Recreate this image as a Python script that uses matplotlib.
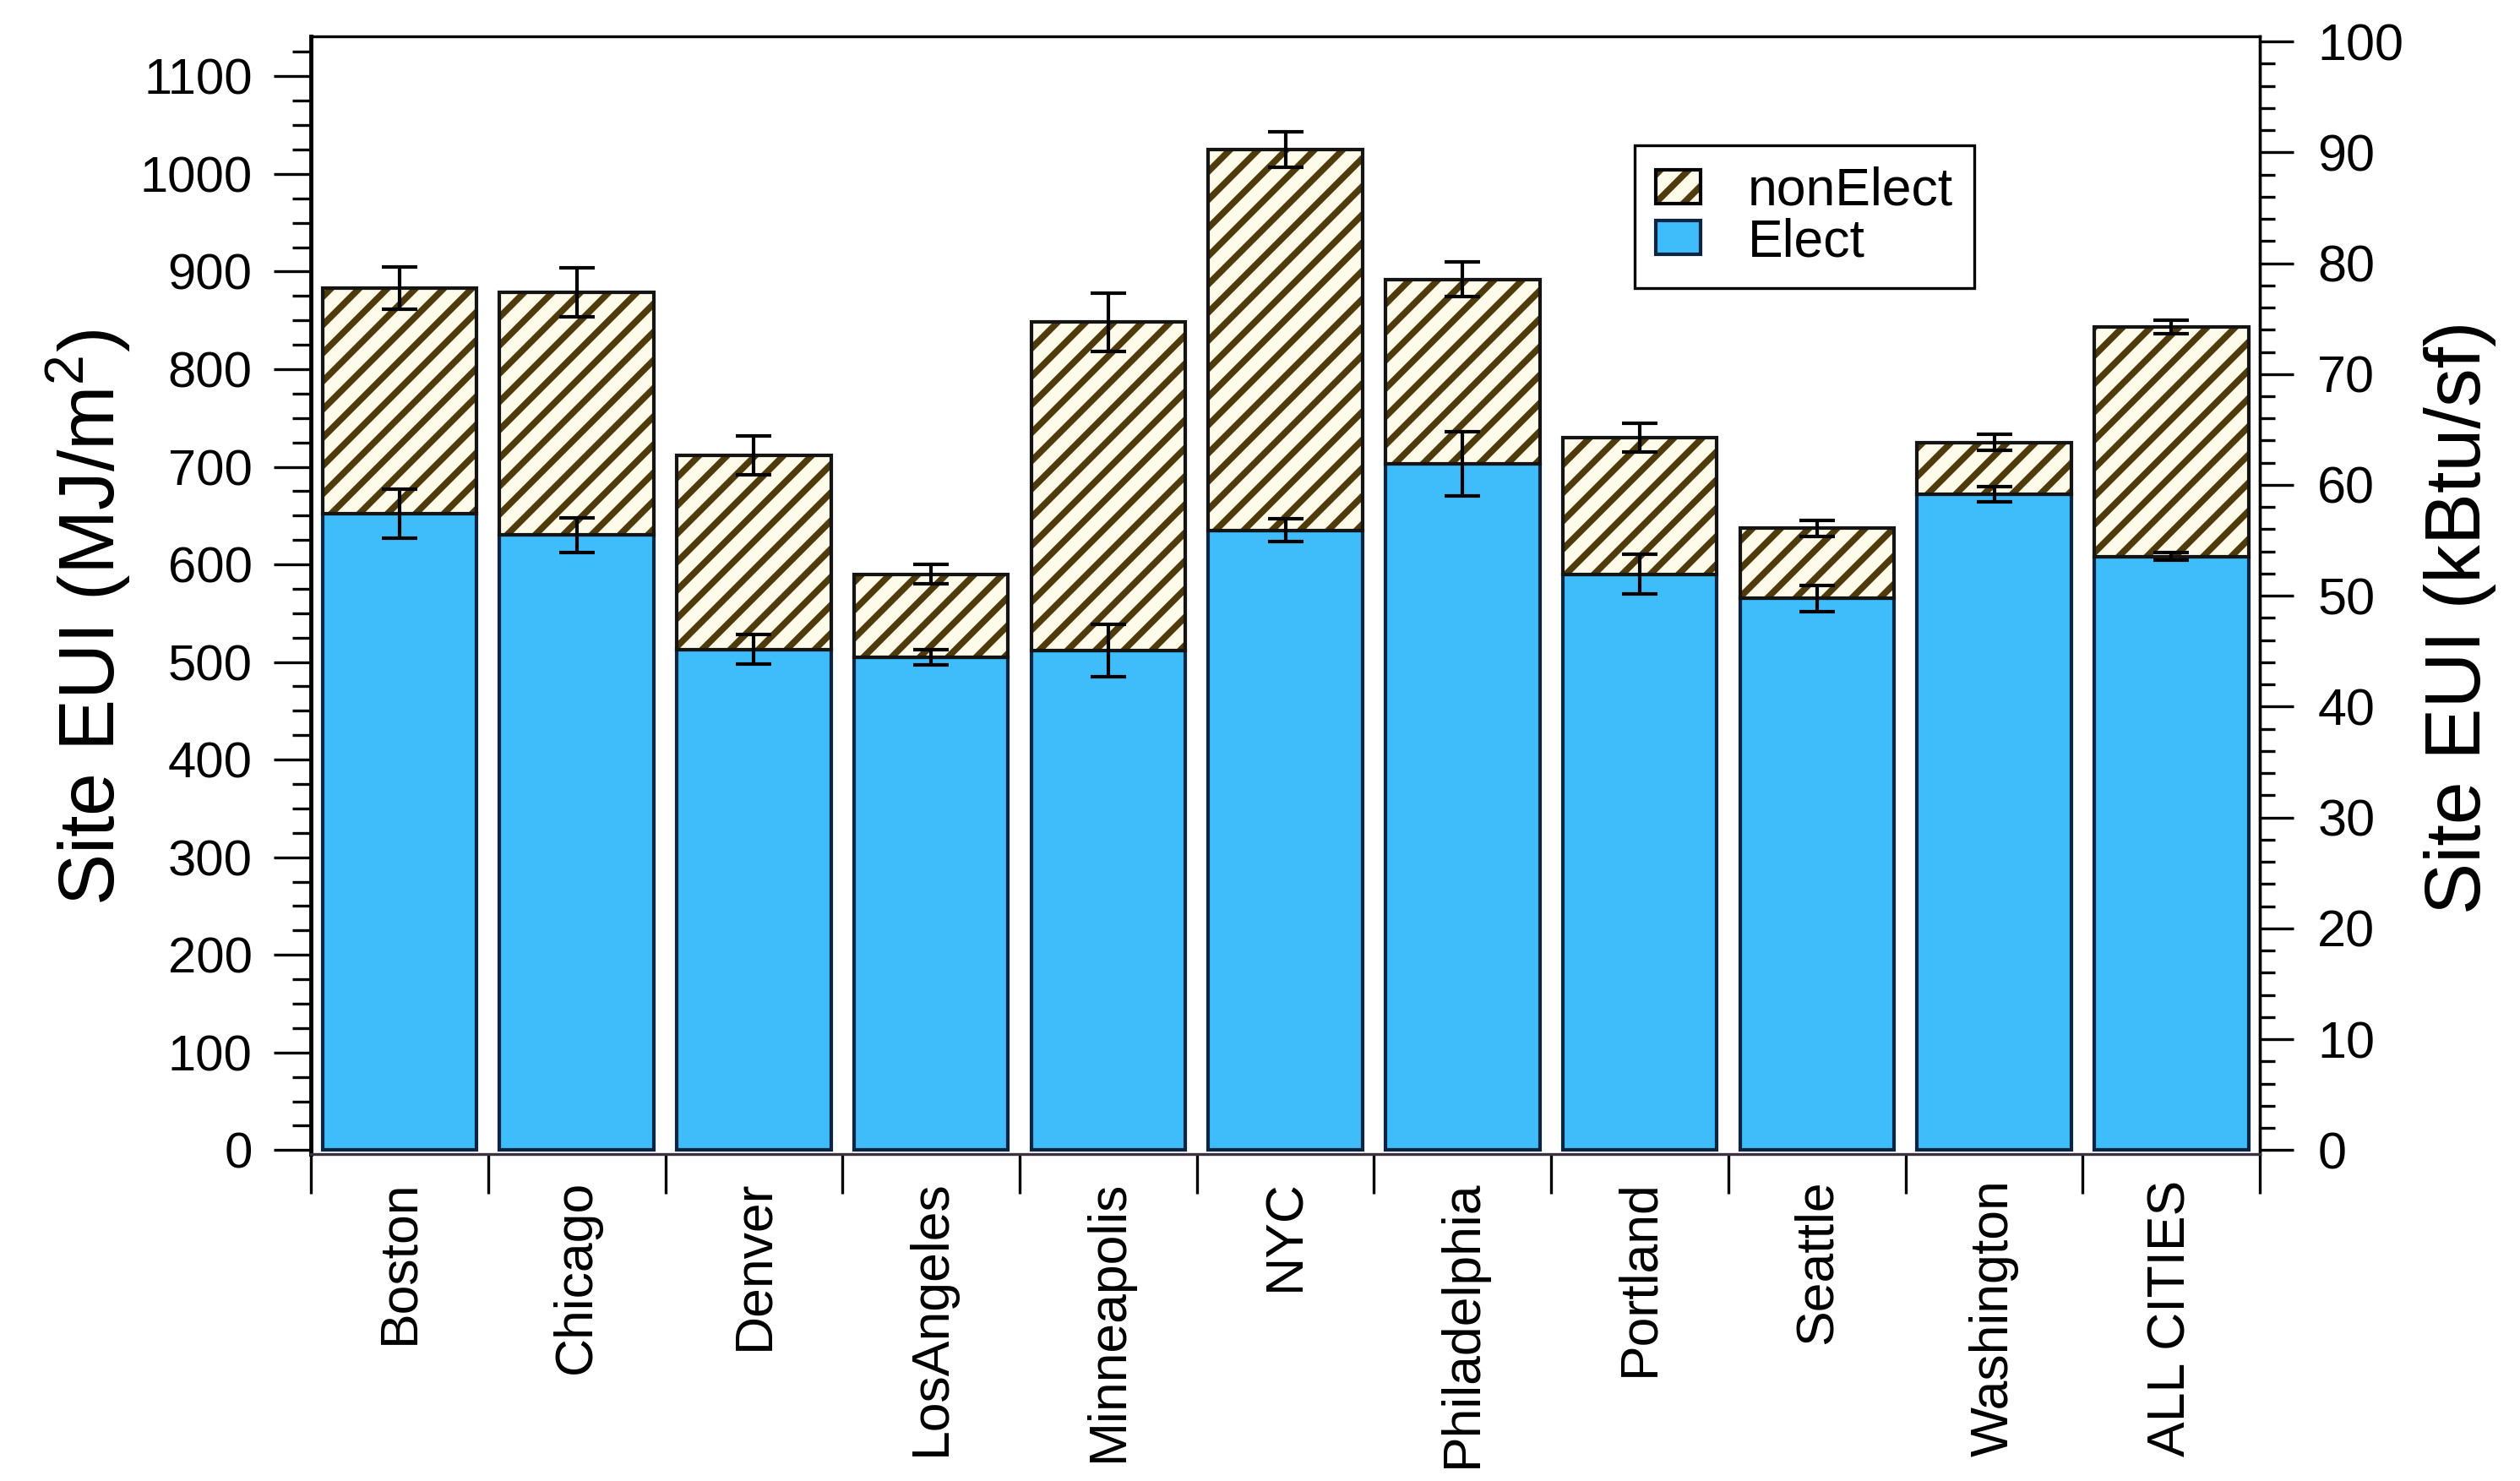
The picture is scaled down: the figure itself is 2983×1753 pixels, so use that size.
import numpy as np
import matplotlib
matplotlib.use("Agg")
import matplotlib.pyplot as plt
from matplotlib.patches import Patch
from matplotlib.legend_handler import HandlerTuple
from matplotlib.ticker import MultipleLocator, FixedLocator, NullFormatter

plt.rcParams['font.family'] = ['Liberation Sans', 'DejaVu Sans']
plt.rcParams['mathtext.fontset'] = 'custom'
plt.rcParams['mathtext.rm'] = 'Liberation Sans'
plt.rcParams['hatch.linewidth'] = 5.5

# data (MJ/m2)
cities = ['Boston', 'Chicago', 'Denver', 'LosAngeles', 'Minneapolis', 'NYC',
          'Philadelphia', 'Portland', 'Seattle', 'Washington', 'ALL CITIES']
elect = [652, 630, 513, 505, 512, 635, 703, 590, 565, 672, 608]
elect_err = [25, 18, 15, 8, 27, 12, 33, 20, 13, 8, 4]
total = [883, 879, 712, 590, 848, 1025, 892, 730, 637, 725, 843]
total_err = [22, 25, 20, 10, 30, 18, 18, 15, 8, 8, 7]

MJ_PER_KBTU = 11.357  # 1 kBtu/sf in MJ/m2

blue = '#3fbcfa'
blue_edge = '#0b2540'
hatch_col = '#4f3a0c'
cream = '#fffbea'

x = np.arange(len(cities))
non_elect = np.array(total) - np.array(elect)
w = 0.87

fig = plt.figure(figsize=(29.83, 17.53), dpi=100)
ax = fig.add_axes([0.1234, 0.2208, 0.7734, 0.7547])

# elect bars
ax.bar(x, elect, width=w, color=blue, edgecolor=blue_edge, linewidth=3, zorder=2)
# nonElect: hatch layer then outline
ax.bar(x, non_elect, bottom=elect, width=w, color=cream, edgecolor=hatch_col,
       hatch='/', linewidth=0, zorder=2)
ax.bar(x, non_elect, bottom=elect, width=w, fill=False, edgecolor='#141414',
       linewidth=3, zorder=3)

ax.errorbar(x, elect, yerr=elect_err, fmt='none', ecolor='black', elinewidth=3,
            capsize=15, capthick=3, zorder=4)
ax.errorbar(x, total, yerr=total_err, fmt='none', ecolor='black', elinewidth=3,
            capsize=15, capthick=3, zorder=4)

ax.set_xlim(-0.5, len(cities) - 0.5)
ax.set_ylim(-4, 1141)

# left axis ticks
ax.yaxis.set_major_locator(MultipleLocator(100))
ax.yaxis.set_minor_locator(MultipleLocator(25))
ax.tick_params(axis='y', which='major', length=32, width=2.4, labelsize=43, pad=18)
ax.tick_params(axis='y', which='minor', length=16, width=2.4)
ax.tick_params(axis='y', which='both', right=False)

# x axis: labels at centers, tick marks at boundaries
ax.set_xticks(x)
ax.set_xticklabels(cities, rotation=90, fontsize=45)
ax.xaxis.set_minor_locator(FixedLocator(np.arange(-0.5, len(cities), 1.0)))
ax.xaxis.set_minor_formatter(NullFormatter())
ax.tick_params(axis='x', which='major', length=0, pad=22)
ax.tick_params(axis='x', which='minor', length=34, width=2.4, direction='out')

ax.spines['left'].set_linewidth(3.5)
ax.spines['top'].set_linewidth(2.4)
ax.spines['right'].set_linewidth(2.4)
ax.spines['bottom'].set_linewidth(2.4)
ax.spines['bottom'].set_color('#3a3040')

ax.text(-0.114, 0.48, 'Site EUI (MJ/m$^2$)', fontsize=66, rotation=90,
        ha='center', va='center', transform=ax.transAxes)

# right axis in kBtu/sf
sec = ax.secondary_yaxis('right', functions=(lambda v: v / MJ_PER_KBTU,
                                             lambda v: v * MJ_PER_KBTU))
sec.yaxis.set_major_locator(MultipleLocator(10))
sec.yaxis.set_minor_locator(MultipleLocator(2))
sec.tick_params(axis='y', which='major', length=29, width=2.4, labelsize=44, pad=20)
sec.tick_params(axis='y', which='minor', length=13, width=2.4)
sec.spines['right'].set_linewidth(2.4)
ax.text(1.1027, 0.48, 'Site EUI (kBtu/sf)', fontsize=66, rotation=90,
        ha='center', va='center', transform=ax.transAxes)

# legend
h_non = (Patch(facecolor=cream, edgecolor=hatch_col, hatch='/', linewidth=0),
         Patch(fill=False, edgecolor='black', linewidth=3))
h_el = Patch(facecolor=blue, edgecolor=blue_edge, linewidth=3)
leg = ax.legend([h_non, h_el], ['nonElect', 'Elect'],
                handler_map={tuple: HandlerTuple(ndivide=1, pad=0)},
                loc='upper left', bbox_to_anchor=(0.679, 0.9025), borderaxespad=0,
                fontsize=45, fancybox=False, framealpha=1, edgecolor='black',
                handlelength=0.85, handleheight=0.6, handletextpad=0.9,
                labelspacing=0.02, borderpad=0.4)
leg.get_frame().set_linewidth(2.4)

fig.savefig('out.png', dpi=100)
